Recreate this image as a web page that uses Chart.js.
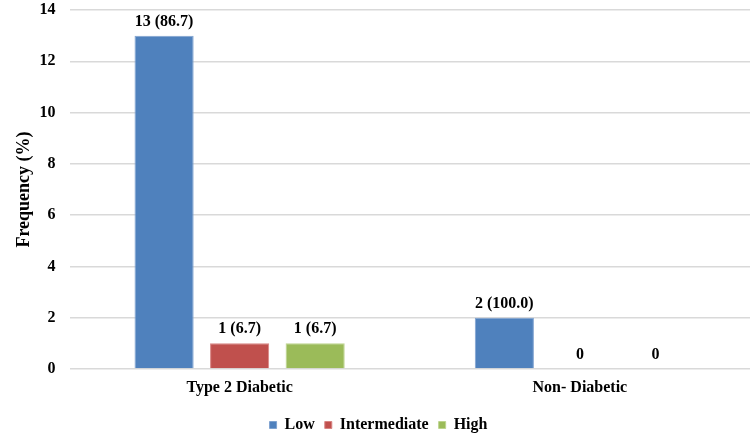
<!DOCTYPE html>
<html><head><meta charset="utf-8">
<script src="https://cdn.jsdelivr.net/npm/chart.js@4"></script>
<style>html,body{margin:0;padding:0;background:#fff;overflow:hidden}#wrap{width:750px;height:433px}</style>
</head><body><div id="wrap"><canvas id="c"></canvas></div>
<script>
const categories = ["Type 2 Diabetic", "Non- Diabetic"];
const lowValues = [13, 2];
const intermediateValues = [1, 0];
const highValues = [1, 0];
const lowLabels = ["13 (86.7)", "2 (100.0)"];
const intermediateLabels = ["1 (6.7)", "0"];
const highLabels = ["1 (6.7)", "0"];
const yTicks = [0, 2, 4, 6, 8, 10, 12, 14];

const FONT = "'Liberation Serif', 'Times New Roman', serif";

const labelPlugin = {
  id: 'barLabels',
  afterDatasetsDraw(chart) {
    const ctx = chart.ctx;
    ctx.save();
    ctx.font = "bold 16px " + FONT;
    ctx.fillStyle = '#000';
    ctx.textAlign = 'center';
    ctx.textBaseline = 'alphabetic';
    chart.data.datasets.forEach((ds, i) => {
      const meta = chart.getDatasetMeta(i);
      meta.data.forEach((bar, j) => {
        ctx.fillText(ds.valueLabels[j], bar.x, bar.y - 10);
      });
    });
    ctx.restore();
  }
};

new Chart(document.getElementById('c'), {
  type: 'bar',
  data: {
    labels: categories,
    datasets: [
      { label: 'Low', data: lowValues, valueLabels: lowLabels, backgroundColor: '#4F81BD', borderColor: '#7FA3D0', borderWidth: 1 },
      { label: 'Intermediate', data: intermediateValues, valueLabels: intermediateLabels, backgroundColor: '#C0504D', borderColor: '#D88583', borderWidth: 1 },
      { label: 'High', data: highValues, valueLabels: highLabels, backgroundColor: '#9BBB59', borderColor: '#BDD48E', borderWidth: 1 }
    ]
  },
  options: {
    responsive: true,
    maintainAspectRatio: false,
    animation: false,
    layout: { padding: { left: 0, right: -7, top: 0, bottom: -10 } },
    categoryPercentage: 0.666,
    barPercentage: 0.783,
    plugins: {
      legend: {
        position: 'bottom',
        labels: { boxWidth: 7, boxHeight: 7, padding: 10, color: '#000', font: { family: FONT, size: 16, weight: 'bold' } }
      },
      tooltip: { enabled: false }
    },
    scales: {
      x: {
        grid: { display: false, drawTicks: false },
        border: { display: false },
        ticks: { color: '#000', padding: 1, font: { family: FONT, size: 16, weight: 'bold', lineHeight: 2.25 } }
      },
      y: {
        min: 0, max: 14,
        afterBuildTicks(axis) { axis.ticks = yTicks.map(v => ({ value: v })); },
        afterFit(axis) { axis.width = 69.5; axis.paddingTop = 10; axis.paddingBottom = 10; },
        grid: { color: '#D9D9D9', lineWidth: 1.5, drawTicks: false },
        border: { display: false },
        ticks: { color: '#000', padding: 14, font: { family: FONT, size: 16, weight: 'bold' } },
        title: { display: true, text: 'Frequency (%)', color: '#000', font: { family: FONT, size: 18, weight: 'bold' }, padding: { top: 14, bottom: 0 } }
      }
    }
  },
  plugins: [labelPlugin]
});
</script></body></html>
